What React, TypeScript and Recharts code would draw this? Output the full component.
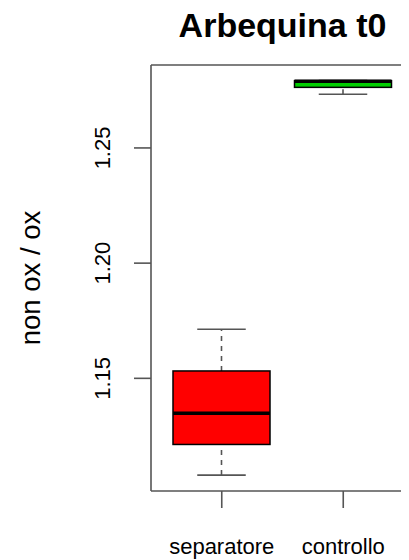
import React from 'react';
import { ComposedChart, Bar, XAxis, YAxis, ReferenceLine } from 'recharts';

const categories = ['separatore', 'controllo'];
const whiskerLow = [1.108, 1.2733];
const quart1 = [1.1213, 1.2763];
const medians = [1.1348, 1.2789];
const quart3 = [1.1532, 1.2792];
const whiskerHigh = [1.1713, 1.2792];
const fills = ['#ff0000', '#00cd00'];
const yTicks = [1.15, 1.2, 1.25];
const yDomain = [1.1011, 1.286];
const title = 'Arbequina t0';
const yLabel = 'non ox / ox';

const FONT = '"Liberation Sans", Arial, Helvetica, sans-serif';

const data = categories.map((name, i) => ({
  name,
  range: [whiskerLow[i], whiskerHigh[i]],
  low: whiskerLow[i],
  q1: quart1[i],
  median: medians[i],
  q3: quart3[i],
  high: whiskerHigh[i],
  fill: fills[i],
}));

const BoxShape = (props: any) => {
  const { x, y, width, height, payload } = props;
  const top = Math.min(y, y + height);
  const h = Math.abs(height);
  const span = payload.high - payload.low;
  const ppu = span > 0 ? h / span : 0;
  const toY = (v: number) => top + (payload.high - v) * ppu;
  const cx = x + width / 2;
  const capHalf = width / 4;
  const yLow = toY(payload.low);
  const yHigh = toY(payload.high);
  const yQ1 = toY(payload.q1);
  const yQ3 = toY(payload.q3);
  const yMed = toY(payload.median);
  const wc = '#555';
  return (
    <g>
      <line x1={cx} x2={cx} y1={yLow} y2={yQ1} stroke={wc} strokeWidth={1.6} strokeDasharray="5 5" />
      <line x1={cx} x2={cx} y1={yQ3} y2={yHigh} stroke={wc} strokeWidth={1.6} strokeDasharray="5 5" />
      <line x1={cx - capHalf} x2={cx + capHalf} y1={yLow} y2={yLow} stroke={wc} strokeWidth={1.6} />
      <line x1={cx - capHalf} x2={cx + capHalf} y1={yHigh} y2={yHigh} stroke={wc} strokeWidth={1.6} />
      <rect x={x} y={yQ3} width={width} height={Math.max(yQ1 - yQ3, 0.5)} fill={payload.fill} stroke="#000" strokeWidth={1.5} />
      <line x1={x} x2={x + width} y1={yMed} y2={yMed} stroke="#000" strokeWidth={3.5} />
    </g>
  );
};

const YTick = (props: any) => {
  const { x, y, payload } = props;
  const tx = x - 22;
  return (
    <text x={tx} y={y} transform={`rotate(-90 ${tx} ${y})`} textAnchor="middle" fontSize={22} fill="#000" fontFamily={FONT}>
      {Number(payload.value).toFixed(2)}
    </text>
  );
};

const XTick = (props: any) => {
  const { x, payload } = props;
  return (
    <text x={x} y={554} textAnchor="middle" fontSize={22} fill="#000" fontFamily={FONT}>
      {payload.value}
    </text>
  );
};

const YLabel = (props: any) => {
  const vb = props.viewBox || { x: 0, y: 65, width: 143, height: 426 };
  const tx = vb.x + 32;
  const ty = vb.y + vb.height / 2;
  return (
    <text x={tx} y={ty} transform={`rotate(-90 ${tx} ${ty})`} textAnchor="middle" fontSize={27.5} fill="#000" fontFamily={FONT}>
      {yLabel}
    </text>
  );
};

const TitleLabel = (props: any) => {
  const vb = props.viewBox || { x: 143, y: 65, width: 263, height: 0 };
  return (
    <text x={vb.x + vb.width / 2} y={vb.y - 28.3} textAnchor="middle" fontSize={34} fontWeight="bold" fill="#000" fontFamily={FONT}>
      {title}
    </text>
  );
};

export default function App() {
  return (
    <div style={{ marginTop: -8, width: 401, height: 560 }}>
      <ComposedChart width={401} height={560} data={data} margin={{ top: 65, right: -5, bottom: 0, left: 0 }}>
        <XAxis
          dataKey="name"
          type="category"
          padding={{ left: 10, right: 10 }}
          height={69}
          tickSize={17}
          tick={<XTick />}
          tickLine={{ stroke: '#555', strokeWidth: 1.6 }}
          axisLine={{ stroke: '#555', strokeWidth: 1.6 }}
          interval={0}
        />
        <YAxis
          type="number"
          domain={yDomain}
          ticks={yTicks}
          allowDataOverflow
          width={143}
          tickSize={17}
          tickMargin={2}
          tick={<YTick />}
          tickLine={{ stroke: '#555', strokeWidth: 1.6 }}
          axisLine={{ stroke: '#555', strokeWidth: 1.6 }}
          label={<YLabel />}
        />
        <ReferenceLine y={yDomain[1]} stroke="#555" strokeWidth={1.6} ifOverflow="extendDomain" label={<TitleLabel />} />
        <Bar dataKey="range" barSize={97} shape={<BoxShape />} isAnimationActive={false} />
      </ComposedChart>
    </div>
  );
}
